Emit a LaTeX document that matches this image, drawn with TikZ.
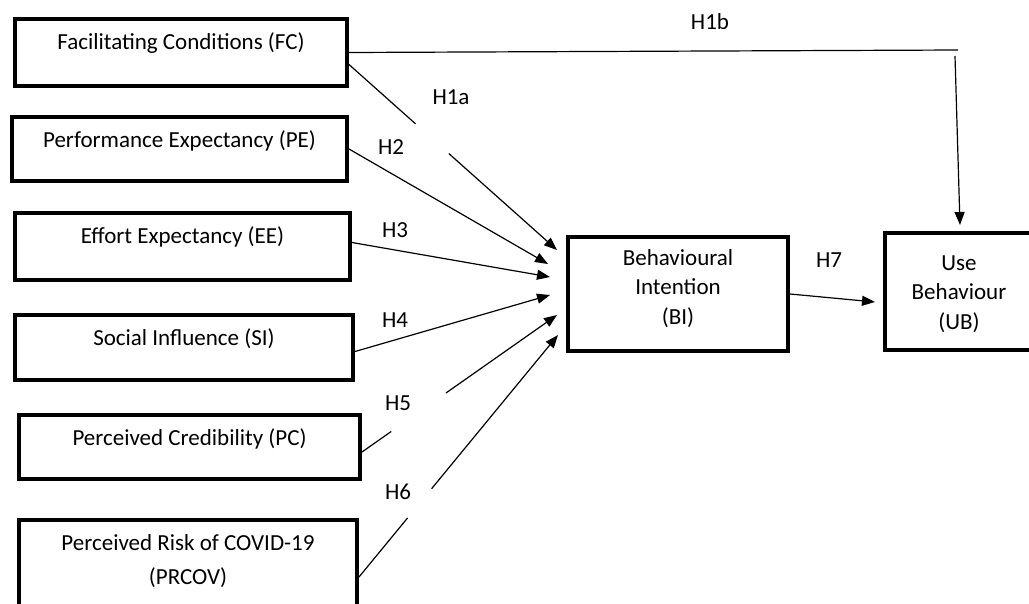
\documentclass[tikz,border=0pt]{standalone}
\usepackage{fontspec}
\setmainfont{Carlito}
\usetikzlibrary{arrows.meta,calc}
\begin{document}
\begin{tikzpicture}[x=1pt,y=-1pt,
  every node/.style={font=\fontsize{23}{29.5}\selectfont},
  box/.style={draw,line width=4pt,inner sep=0pt,anchor=base,text height=30pt},
  conn/.style={line width=1.2pt},
  arr/.style={conn,-{Triangle[length=13pt,width=10pt]}},
  hlab/.style={inner sep=1pt}]
\useasboundingbox (0,0) rectangle (1029,603);
% boxes
\node[box,minimum width=332pt,text depth=37pt] (FC) at (181,49) {Facilitating Conditions (FC)};
\node[box,minimum width=335pt,text depth=34pt] (PE) at (179.5,147) {Performance Expectancy (PE)};
\node[box,minimum width=335pt,text depth=37pt] (EE) at (182.5,243) {Effort Expectancy (EE)};
\node[box,minimum width=338pt,text depth=35pt] (SI) at (184,345) {Social Influence (SI)};
\node[box,minimum width=341pt,text depth=34pt] (PC) at (189.5,445) {Perceived Credibility (PC)};
\node[box,minimum width=338pt,text depth=100pt] (PR) at (188,550)
  {\begin{tabular}[t]{@{}c@{}}Perceived Risk of COVID-19\\[4.5pt](PRCOV)\end{tabular}};
\node[box,minimum width=220pt,text height=28pt,text depth=86pt] (BI) at (678,265)
  {\begin{tabular}[t]{@{}c@{}}Behavioural\\Intention\\(BI)\end{tabular}};
\node[box,minimum width=148pt,text height=37pt,text depth=80pt] (UB) at (959,270)
  {\begin{tabular}[t]{@{}c@{}}Use\\Behaviour\\(UB)\end{tabular}};
% start and end points
\coordinate (s1) at ($(FC.east)+(0,12)$);
\coordinate (s2) at (PE.east);
\coordinate (s3) at ($(EE.east)+(0,-4)$);
\coordinate (s4) at ($(SI.east)+(0,4)$);
\coordinate (s5) at ($(PC.east)+(0,5)$);
\coordinate (s6) at ($(PR.north east)+(0,59)$);
\coordinate (t1) at (557,250);
\coordinate (t2) at (548,264);
\coordinate (t3) at (550,277);
\coordinate (t4) at (550,295);
\coordinate (t5) at (557,315);
\coordinate (t6) at (558,335);
\coordinate (t7) at (875,302);
\coordinate (c1) at (958,50);
\coordinate (c2) at (955,56);
\coordinate (t8) at (960,225);
% connectors
\draw[conn] (FC.east) -- (c1);
\draw[arr] (c2) -- (t8);
\draw[conn] (s1) -- ($(s1)!0.32!(t1)$);
\draw[arr] ($(s1)!0.48!(t1)$) -- (t1);
\draw[arr] (s2) -- (t2);
\draw[arr] (s3) -- (t3);
\draw[arr] (s4) -- (t4);
\draw[conn] (s5) -- ($(s5)!0.15!(t5)$);
\draw[arr] ($(s5)!0.43!(t5)$) -- (t5);
\draw[conn] (s6) -- ($(s6)!0.244!(t6)$);
\draw[arr] ($(s6)!0.365!(t6)$) -- (t6);
\draw[arr] (BI.east) -- (t7);
% labels
\node[hlab] (l1b) at (710,22) {H1b};
\node[hlab] (l1a) at (451,97) {H1a};
\node[hlab] (l2) at (391,147) {H2};
\node[hlab] (l3) at (395,230) {H3};
\node[hlab] (l4) at (395,320) {H4};
\node[hlab] (l5) at (398,403) {H5};
\node[hlab] (l6) at (398,492) {H6};
\node[hlab] (l7) at (829,260) {H7};
\end{tikzpicture}
\end{document}
